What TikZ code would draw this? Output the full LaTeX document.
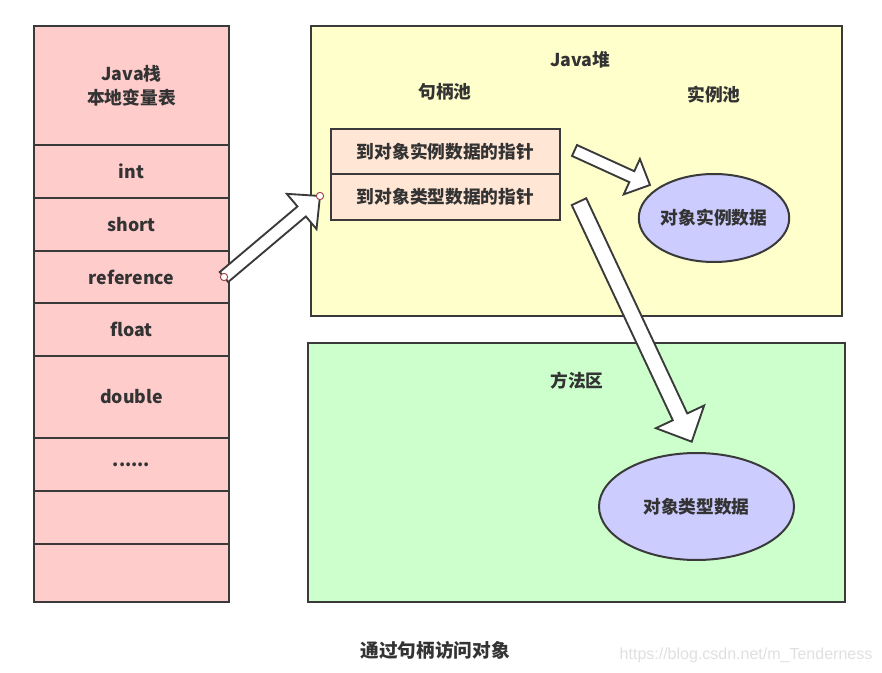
\documentclass[tikz,border=0pt]{standalone}
\usepackage{fontspec}
\setmainfont{Noto Sans CJK SC}
\newfontfamily\wmfont{Liberation Sans}
\usetikzlibrary{calc,shapes.geometric}
\definecolor{ln}{HTML}{3A3A3A}
\definecolor{txt}{HTML}{333333}
\definecolor{stackc}{HTML}{FFCCCC}
\definecolor{heapc}{HTML}{FFFFCC}
\definecolor{tabc}{HTML}{FFE6D5}
\definecolor{methc}{HTML}{CCFFCC}
\definecolor{ellc}{HTML}{CCCCFF}
\definecolor{dotc}{HTML}{A04048}
\tikzset{
  lbl/.style={text=txt, font=\fontsize{13.3}{18}\selectfont\bfseries, align=center, inner sep=0pt},
  box/.style={lbl, draw=ln, line width=1.5pt, rectangle, outer sep=0pt},
  cell/.style={box, fill=stackc, minimum width=146.25pt},
  area/.style={box, line width=1.3pt},
  tabrow/.style={box, fill=tabc, minimum width=171.75pt},
  obj/.style={lbl, ellipse, draw=ln, line width=1.5pt, fill=ellc},
  blockarr/.style={draw=ln, line width=1.4pt, fill=white, line join=miter},
  enddot/.style={circle, draw=dotc, fill=white, line width=0.7pt, minimum size=5.5pt, inner sep=0pt}
}
\newcommand\blockarrow[5]{%
  \coordinate (bh) at ($(#2)!#5!(#1)$);
  \draw[blockarr] ($(#1)!#3!90:(#2)$) -- ($(bh)!#3!-90:(#1)$) -- ($(bh)!#4!-90:(#1)$)
    -- (#2) -- ($(bh)!#4!90:(#1)$) -- ($(bh)!#3!90:(#1)$) -- ($(#1)!#3!-90:(#2)$) -- cycle;}
\begin{document}
\begin{tikzpicture}[x=0.75pt,y=-0.75pt]
\fill[white] (0,0) rectangle (882,673);
\useasboundingbox (0,0) rectangle (882,673);
% Java stack
\node[cell, minimum height=89.25pt] (top) at (131.5,85.5) {Java栈\\本地变量表};
\node[cell, minimum height=39.75pt] (int) at (131.5,171.5) {int};
\node[cell, minimum height=39.75pt] (short) at (131.5,224.5) {short};
\node[cell, minimum height=39pt] (ref) at (131.5,277) {reference};
\node[cell, minimum height=39.75pt] (float) at (131.5,329.5) {float};
\node[cell, minimum height=61.5pt] (double) at (131.5,397) {double};
\node[cell, minimum height=39.75pt] (dots) at (131.5,464.5) {......};
\node[cell, minimum height=39.75pt] (e1) at (131.5,517.5) {};
\node[cell, minimum height=43.5pt] (e2) at (131.5,573) {};
% Java heap
\node[area, fill=heapc, minimum width=398.25pt, minimum height=217.5pt] (heap) at (576.5,171) {};
\node[lbl] (heapt) at (580,60) {Java堆};
\node[lbl] (poolh) at (445,92) {句柄池};
\node[lbl] (pooli) at (714,95) {实例池};
\node[tabrow, minimum height=33.75pt] (row1) at (445.5,151.5) {到对象实例数据的指针};
\node[tabrow, minimum height=34.5pt] (row2) at (445.5,197) {到对象类型数据的指针};
\node[obj, minimum width=112.5pt, minimum height=66pt] (inst) at (714,218) {对象实例数据};
% Method area
\node[area, fill=methc, minimum width=402.75pt, minimum height=194.25pt] (meth) at (576.5,472.5) {};
\node[lbl] (metht) at (577,381) {方法区};
\node[obj, minimum width=146.25pt, minimum height=80.25pt] (type) at (696.5,506.5) {对象类型数据};
% arrows
\coordinate (a1s) at (224,277);
\coordinate (a1e) at (320,196);
\coordinate (a2s) at (574.5,150.5);
\coordinate (a2e) at (650,185);
\coordinate (a3s) at (579,201.7);
\coordinate (a3e) at (691.7,441.7);
\blockarrow{a1s}{a1e}{4.9pt}{17.3pt}{18pt}
\blockarrow{a2s}{a2e}{4.5pt}{14.6pt}{15pt}
\blockarrow{a3s}{a3e}{6pt}{20pt}{20.6pt}
\node[enddot] (d1) at (a1s) {};
\node[enddot] (d2) at (a1e) {};
% caption and watermark
\node[lbl, font=\fontsize{14}{18}\selectfont\bfseries] (cap) at (435,650) {通过句柄访问对象};
\node[inner sep=0pt, text=black!12, font=\wmfont\fontsize{12}{14}\selectfont] (wm) at (746,655) {https://blog.csdn.net/m\_Tenderness};
\end{tikzpicture}
\end{document}
